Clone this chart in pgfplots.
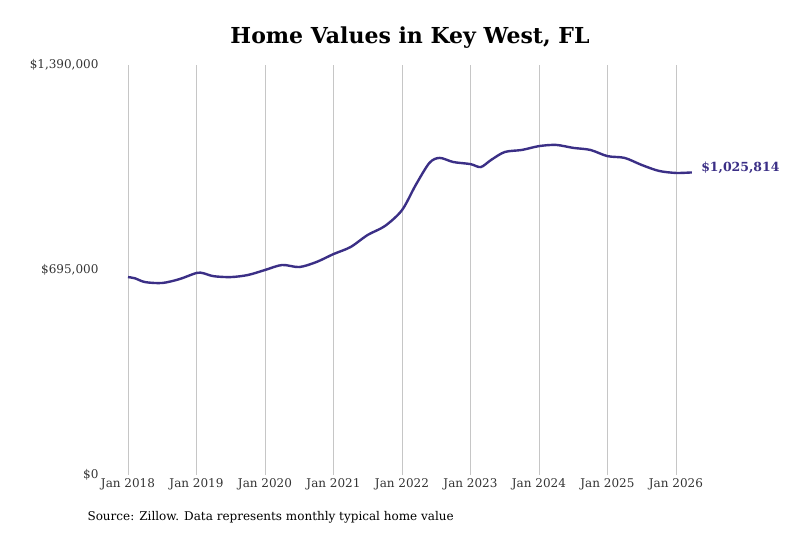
\documentclass[border=0pt]{standalone}
\usepackage{pgfplots}
\pgfplotsset{compat=1.18}
\usepackage{fontspec}
\setmainfont{DejaVu Serif}
\definecolor{line}{HTML}{3B2F86}
\begin{document}
\begin{tikzpicture}[x=1pt,y=1pt]
\begin{axis}[
  at={(0,0)}, anchor=origin,
  scale only axis, width=548pt, height=410pt,
  xmin=2018, xmax=2026, ymin=0, ymax=1390000, clip=false,
  axis line style={draw=none}, tick style={draw=none},
  xmajorgrids, grid style={gray!45, line width=0.8pt},
  xtick={2018,...,2026},
  xticklabels={Jan 2018,Jan 2019,Jan 2020,Jan 2021,Jan 2022,Jan 2023,Jan 2024,Jan 2025,Jan 2026},
  ytick={0,695000,1390000},
  yticklabels={{\$0},{\$695,000},{\$1,390,000}},
  ticklabel style={font=\fontsize{12}{14}\selectfont, text=black!80},
  yticklabel style={xshift=-26pt},
  scaled y ticks=false,
  /pgf/number format/assume math mode=true,
]
\addplot[line, line width=2.4pt, smooth, tension=0.5] coordinates {
(2018.0,671000)(2018.1,667000)(2018.25,654000)(2018.5,651000)(2018.75,664000)
(2019.0,685000)(2019.1,684000)(2019.25,674000)(2019.5,671000)(2019.75,678000)
(2020.0,695000)(2020.25,712000)(2020.5,705000)(2020.75,722000)
(2021.0,749000)(2021.25,773000)(2021.5,814000)(2021.75,844000)
(2022.0,898000)(2022.2,983000)(2022.4,1058000)(2022.55,1075000)(2022.75,1061000)
(2023.0,1054000)(2023.15,1044000)(2023.3,1068000)(2023.5,1095000)(2023.75,1102000)
(2024.0,1115000)(2024.25,1119000)(2024.5,1109000)(2024.75,1102000)
(2025.0,1081000)(2025.25,1075000)(2025.5,1051000)(2025.75,1031000)
(2026.0,1024000)(2026.23,1025814)
};
\node[anchor=west, xshift=6pt, text=line, font=\bfseries\fontsize{12.5}{14}\selectfont] at (axis cs:2026.23,1040000) {\$1,025,814};
\end{axis}
\node[font=\bfseries\fontsize{22}{26}\selectfont] at (282,437) {Home Values in Key West, FL};
\node[anchor=west, font=\fontsize{12}{14}\selectfont] at (-44,-42) {Source: Zillow. Data represents monthly typical home value};
\pgfresetboundingbox
\path[use as bounding box] (-128,-58) rectangle (672,475);
\end{tikzpicture}
\end{document}
